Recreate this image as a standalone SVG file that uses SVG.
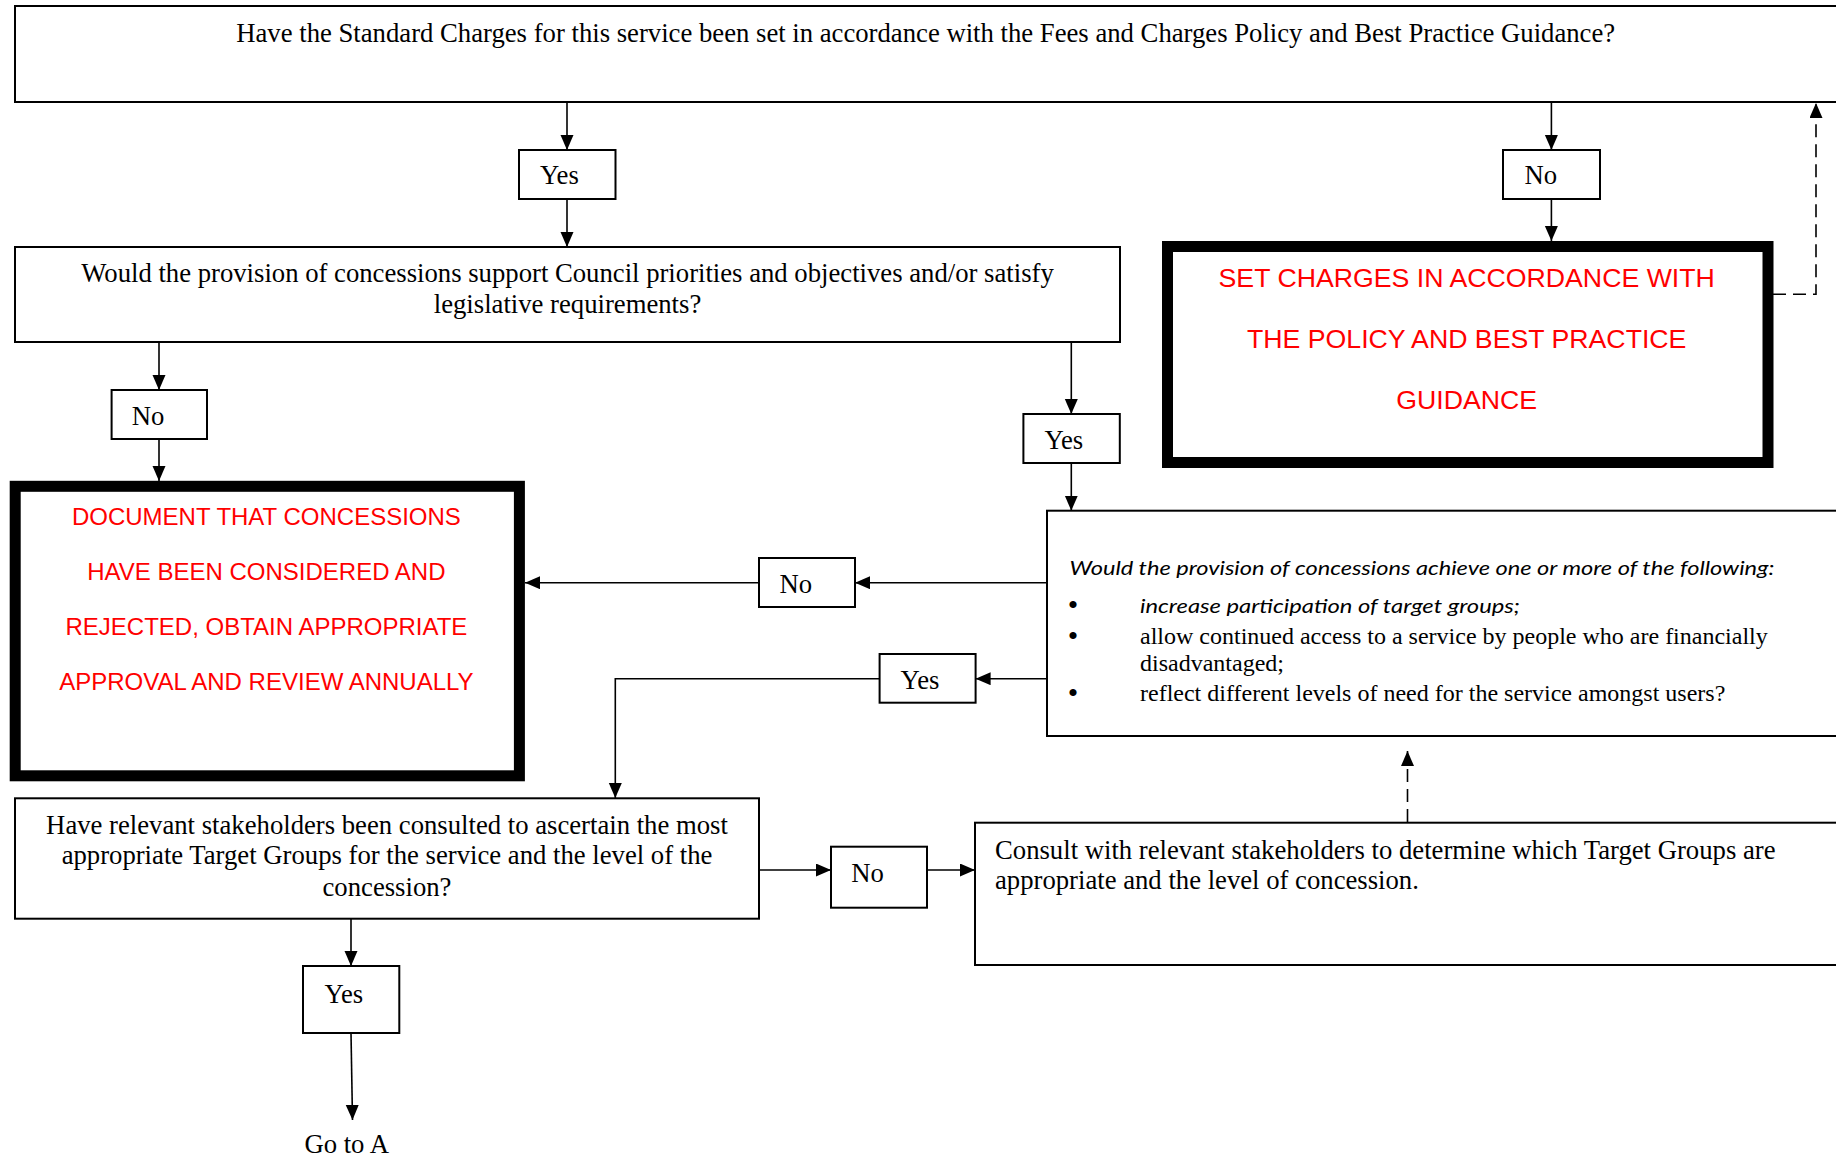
<svg xmlns="http://www.w3.org/2000/svg" width="1836" height="1158" viewBox="0 0 1836 1158">
<defs>
<style>
.box{fill:#fff;stroke:#000;stroke-width:2}
.thick{fill:#fff;stroke:#000;stroke-width:11}
.t{font-family:"Liberation Serif","Times New Roman",serif;font-size:26.7px;fill:#000}
.t24{font-family:"Liberation Serif","Times New Roman",serif;font-size:24px;fill:#000}
.bul{font-family:"Liberation Serif","Times New Roman",serif;font-size:30px;fill:#000;text-anchor:middle}
.ci{font-family:Lato,"Open Sans",sans-serif;font-style:italic;font-size:19.5px;fill:#000}
.red{font-family:"Liberation Sans",Arial,sans-serif;fill:#ff0000;text-anchor:middle}
.c{fill:none;stroke:#000;stroke-width:1.6}
.d{fill:none;stroke:#000;stroke-width:1.6;stroke-dasharray:13 7}
</style>
<marker id="ah" markerUnits="userSpaceOnUse" markerWidth="16" markerHeight="14" refX="15" refY="6.5" orient="auto">
<path d="M0,0 L15,6.5 L0,13 z" fill="#000"/>
</marker>
</defs>

<g id="q1">
<rect class="box" x="15" y="6" width="1840" height="96"/>
<text class="t" x="925.7" y="42" text-anchor="middle">Have the Standard Charges for this service been set in accordance with the Fees and Charges Policy and Best Practice Guidance?</text>
</g>
<g id="yes1">
<rect class="box" x="519" y="150" width="96.5" height="49"/>
<text class="t" x="540" y="184">Yes</text>
</g>
<g id="no1">
<rect class="box" x="1503" y="150" width="97" height="49"/>
<text class="t" x="1524.6" y="184">No</text>
</g>
<g id="setcharges">
<rect class="thick" x="1167.5" y="246.5" width="600.5" height="216"/>
<text class="red" font-size="26.7" x="1466.7" y="287">SET CHARGES IN ACCORDANCE WITH</text>
<text class="red" font-size="26.7" x="1466.7" y="348">THE POLICY AND BEST PRACTICE</text>
<text class="red" font-size="26.7" x="1466.7" y="409">GUIDANCE</text>
</g>
<g id="q2">
<rect class="box" x="15" y="247" width="1105" height="95"/>
<text class="t" x="567.5" y="281.7" text-anchor="middle">Would the provision of concessions support Council priorities and objectives and/or satisfy</text>
<text class="t" x="567.5" y="312.7" text-anchor="middle">legislative requirements?</text>
</g>
<g id="no2">
<rect class="box" x="111.6" y="390" width="95.4" height="49"/>
<text class="t" x="131.8" y="425">No</text>
</g>
<g id="yes2">
<rect class="box" x="1023.4" y="414" width="96.4" height="49"/>
<text class="t" x="1044.4" y="448.5">Yes</text>
</g>
<g id="document">
<rect class="thick" x="15.2" y="486.3" width="504.2" height="289.5"/>
<text class="red" font-size="24" x="266.4" y="524.5">DOCUMENT THAT CONCESSIONS</text>
<text class="red" font-size="24" x="266.4" y="579.5">HAVE BEEN CONSIDERED AND</text>
<text class="red" font-size="24" x="266.4" y="634.5">REJECTED, OBTAIN APPROPRIATE</text>
<text class="red" font-size="24" x="266.4" y="689.5">APPROVAL AND REVIEW ANNUALLY</text>
</g>
<g id="q3">
<rect class="box" x="1047" y="510.7" width="810" height="225.3"/>
<text class="ci" x="1069.4" y="575" textLength="705" lengthAdjust="spacingAndGlyphs">Would the provision of concessions achieve one or more of the following:</text>
<text class="bul" x="1073" y="615">•</text>
<text class="ci" x="1140" y="613.3" textLength="380" lengthAdjust="spacingAndGlyphs">increase participation of target groups;</text>
<text class="bul" x="1073" y="646">•</text>
<text class="t24" x="1140" y="644.3">allow continued access to a service by people who are financially</text>
<text class="t24" x="1140" y="670.7">disadvantaged;</text>
<text class="bul" x="1073" y="702.5">•</text>
<text class="t24" x="1140" y="700.7">reflect different levels of need for the service amongst users?</text>
</g>
<g id="no3">
<rect class="box" x="759" y="558" width="96" height="49"/>
<text class="t" x="779.6" y="592.5">No</text>
</g>
<g id="yes3">
<rect class="box" x="879.6" y="654" width="96" height="48.7"/>
<text class="t" x="900.6" y="688.5">Yes</text>
</g>
<g id="q4">
<rect class="box" x="15" y="798.3" width="744" height="120.4"/>
<text class="t" x="387" y="833.5" text-anchor="middle">Have relevant stakeholders been consulted to ascertain the most</text>
<text class="t" x="387" y="864" text-anchor="middle">appropriate Target Groups for the service and the level of the</text>
<text class="t" x="387" y="895.5" text-anchor="middle">concession?</text>
</g>
<g id="no4">
<rect class="box" x="831" y="846.7" width="96" height="61"/>
<text class="t" x="851.3" y="882">No</text>
</g>
<g id="consult">
<rect class="box" x="975" y="822.7" width="880" height="142.3"/>
<text class="t" x="995" y="858.5">Consult with relevant stakeholders to determine which Target Groups are</text>
<text class="t" x="995" y="889">appropriate and the level of concession.</text>
</g>
<g id="yes4">
<rect class="box" x="303" y="966" width="96.3" height="67"/>
<text class="t" x="324.4" y="1003">Yes</text>
</g>
<g id="gotoA">
<text class="t" x="304.4" y="1153">Go to A</text>
</g>

<g id="connectors">
<path class="c" d="M567,102 V150" marker-end="url(#ah)"/>
<path class="c" d="M567,199 V247" marker-end="url(#ah)"/>
<path class="c" d="M1551.4,102 V150" marker-end="url(#ah)"/>
<path class="c" d="M1551.4,199 V241" marker-end="url(#ah)"/>
<path class="d" d="M1773,294.3 H1816 V103" marker-end="url(#ah)"/>
<path class="c" d="M159,342 V390" marker-end="url(#ah)"/>
<path class="c" d="M159,439 V481" marker-end="url(#ah)"/>
<path class="c" d="M1071.3,342 V414" marker-end="url(#ah)"/>
<path class="c" d="M1071.3,463 V510.7" marker-end="url(#ah)"/>
<path class="c" d="M1047,582.7 H855" marker-end="url(#ah)"/>
<path class="c" d="M759,582.7 H525" marker-end="url(#ah)"/>
<path class="c" d="M1047,678.7 H975.6" marker-end="url(#ah)"/>
<path class="c" d="M879.6,678.7 H615.3 V798" marker-end="url(#ah)"/>
<path class="c" d="M759,870 H831" marker-end="url(#ah)"/>
<path class="c" d="M927,870 H975" marker-end="url(#ah)"/>
<path class="d" d="M1407.5,822 V751" marker-end="url(#ah)"/>
<path class="c" d="M351,918.7 V966" marker-end="url(#ah)"/>
<path class="c" d="M351,1033 L352.5,1120" marker-end="url(#ah)"/>
</g>
</svg>
